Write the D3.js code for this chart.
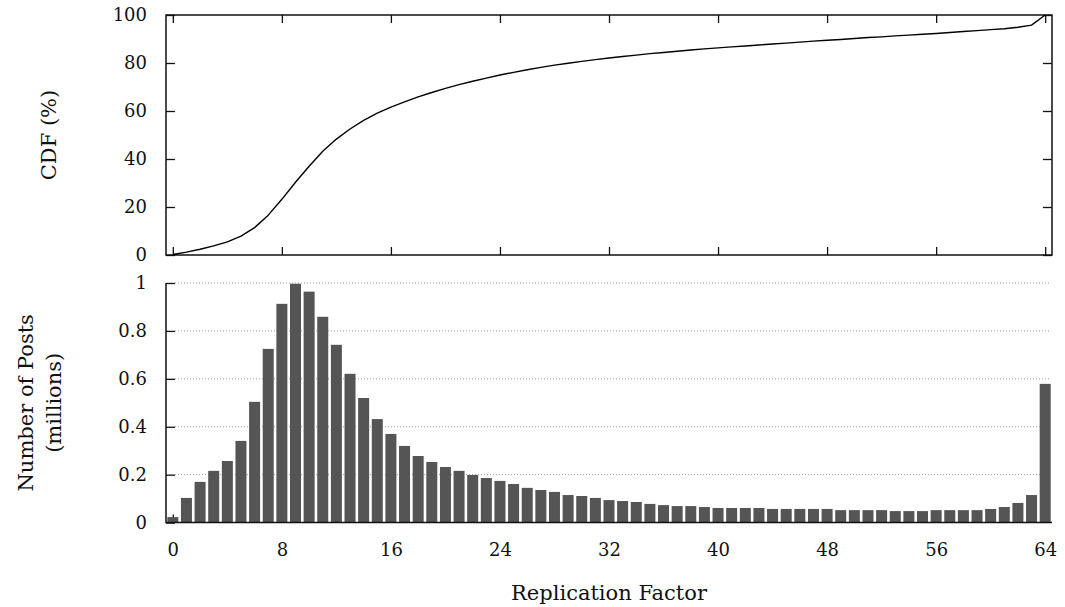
<!DOCTYPE html>
<html>
<head>
<meta charset="utf-8">
<script src="https://cdn.jsdelivr.net/npm/d3@7"></script>
<style>
  body { margin: 0; background: #fff; }
  svg { display: block; font-family: "DejaVu Serif", serif; }
</style>
</head>
<body>
<div id="chart"></div>
<script>
// replication factor 0..64
const factors = d3.range(0, 65);

// number of posts per replication factor (millions)
const posts = [
  0.023, 0.103, 0.170, 0.216, 0.257, 0.341, 0.504, 0.725, 0.913, 0.997,
  0.964, 0.859, 0.742, 0.621, 0.520, 0.432, 0.370, 0.320, 0.278, 0.253,
  0.232, 0.216, 0.199, 0.186, 0.174, 0.161, 0.145, 0.136, 0.128, 0.115,
  0.111, 0.103, 0.094, 0.090, 0.086, 0.078, 0.073, 0.069, 0.069, 0.065,
  0.061, 0.061, 0.061, 0.061, 0.057, 0.057, 0.057, 0.057, 0.057, 0.052,
  0.052, 0.052, 0.052, 0.048, 0.048, 0.048, 0.052, 0.052, 0.052, 0.052,
  0.057, 0.065, 0.082, 0.115, 0.579
];

// CDF (%)
const cdf = [
  0.2, 1.2, 2.4, 3.8, 5.5, 7.9, 11.4, 16.6, 23.2, 30.3,
  37.0, 43.2, 48.3, 52.5, 56.1, 59.1, 61.6, 63.8, 65.9, 67.7,
  69.4, 71.0, 72.4, 73.7, 75.0, 76.1, 77.2, 78.2, 79.1, 79.9,
  80.7, 81.4, 82.1, 82.7, 83.3, 83.9, 84.4, 84.9, 85.4, 85.9,
  86.3, 86.7, 87.1, 87.5, 87.9, 88.3, 88.7, 89.1, 89.5, 89.8,
  90.2, 90.6, 90.9, 91.3, 91.6, 92.0, 92.3, 92.7, 93.1, 93.5,
  93.9, 94.3, 94.9, 95.8, 100
];

const xTicks = [0, 8, 16, 24, 32, 40, 48, 56, 64];
const cdfTicks = [0, 20, 40, 60, 80, 100];
const postTicks = [0, 0.2, 0.4, 0.6, 0.8, 1];

const W = 1065, H = 607;
const left = 166, right = 1052;
const top1 = { top: 15, bottom: 255 };
const top2 = { top: 283, bottom: 522.6 };

const svg = d3.select("#chart").append("svg")
  .attr("width", W)
  .attr("height", H)
  .attr("viewBox", `0 0 ${W} ${H}`);

const x = d3.scaleLinear()
  .domain([-0.5, 64.5])
  .range([left, right]);

const yCdf = d3.scaleLinear()
  .domain([0, 100])
  .range([top1.bottom, top1.top]);

const yPosts = d3.scaleLinear()
  .domain([0, 1])
  .range([top2.bottom, top2.top]);

const tickLabel = (g) => g.selectAll("text")
  .style("font-size", "18px")
  .style("font-family", "'DejaVu Serif', serif")
  .style("fill", "#111");

/* ---- upper panel: CDF ---- */
const p1 = svg.append("g");

// ticks on all four sides, pointing inwards
p1.append("g")
  .attr("transform", `translate(0,${top1.bottom})`)
  .call(d3.axisTop(x).tickValues(xTicks).tickSize(8).tickFormat(""))
  .call(g => g.select(".domain").remove())
  .selectAll("line").attr("stroke", "#111").attr("stroke-width", 1.3);

p1.append("g")
  .attr("transform", `translate(0,${top1.top})`)
  .call(d3.axisBottom(x).tickValues(xTicks).tickSize(8).tickFormat(""))
  .call(g => g.select(".domain").remove())
  .selectAll("line").attr("stroke", "#111").attr("stroke-width", 1.3);

p1.append("g")
  .attr("transform", `translate(${right},0)`)
  .call(d3.axisLeft(yCdf).tickValues(cdfTicks).tickSize(9).tickFormat(""))
  .call(g => g.select(".domain").remove())
  .selectAll("line").attr("stroke", "#111").attr("stroke-width", 1.3);

p1.append("g")
  .attr("transform", `translate(${left},0)`)
  .call(d3.axisRight(yCdf).tickValues(cdfTicks).tickSize(9).tickFormat(""))
  .call(g => g.select(".domain").remove())
  .selectAll("line").attr("stroke", "#111").attr("stroke-width", 1.3);

// labels for the left axis
p1.append("g")
  .attr("transform", `translate(${left},0)`)
  .call(d3.axisLeft(yCdf).tickValues(cdfTicks).tickSize(0).tickPadding(19))
  .call(g => g.select(".domain").remove())
  .call(tickLabel);

p1.append("rect")
  .attr("x", left)
  .attr("y", top1.top)
  .attr("width", right - left)
  .attr("height", top1.bottom - top1.top)
  .attr("fill", "none")
  .attr("stroke", "#111")
  .attr("stroke-width", 1.5);

const line = d3.line()
  .curve(d3.curveLinear)
  .x((d, i) => x(factors[i]))
  .y((d) => yCdf(d));

p1.append("path")
  .attr("fill", "none")
  .attr("stroke", "#000")
  .attr("stroke-width", 1.4)
  .attr("stroke-linejoin", "round")
  .attr("d", line(cdf));

p1.append("text")
  .text("CDF (%)")
  .attr("transform", `translate(56,${(top1.top + top1.bottom) / 2}) rotate(-90)`)
  .style("text-anchor", "middle")
  .style("font-size", "21px")
  .style("fill", "#111");

/* ---- lower panel: posts per replication factor ---- */
const p2 = svg.append("g");

// dotted grid
p2.append("g")
  .selectAll("line")
  .data(postTicks.filter(d => d > 0))
  .enter()
  .append("line")
    .attr("x1", left + 9)
    .attr("x2", right - 2)
    .attr("y1", d => yPosts(d))
    .attr("y2", d => yPosts(d))
    .attr("stroke", "#999")
    .attr("stroke-width", 1)
    .style("stroke-dasharray", "1 2");

// bottom ticks (mostly hidden behind the bars)
p2.append("g")
  .attr("transform", `translate(0,${top2.bottom})`)
  .call(d3.axisTop(x).tickValues(xTicks).tickSize(8).tickFormat(""))
  .call(g => g.select(".domain").remove())
  .selectAll("line").attr("stroke", "#111").attr("stroke-width", 1.3);

p2.append("g")
  .selectAll("rect")
  .data(posts)
  .enter()
  .append("rect")
    .attr("x", (d, i) => x(factors[i]) - 5.5)
    .attr("width", 11)
    .attr("y", d => yPosts(d))
    .attr("height", d => yPosts(0) - yPosts(d))
    .attr("fill", "#555");

// left axis with inward ticks
p2.append("g")
  .attr("transform", `translate(${left},0)`)
  .call(d3.axisRight(yPosts).tickValues(postTicks).tickSize(9).tickFormat(""))
  .call(g => g.select(".domain").remove())
  .selectAll("line").attr("stroke", "#111").attr("stroke-width", 1.3);

p2.append("g")
  .attr("transform", `translate(${left},0)`)
  .call(d3.axisLeft(yPosts).tickValues(postTicks).tickSize(0).tickPadding(19)
    .tickFormat(d3.format("~g")))
  .call(g => g.select(".domain").remove())
  .call(tickLabel);

p2.append("path")
  .attr("fill", "none")
  .attr("stroke", "#111")
  .attr("stroke-width", 1.5)
  .attr("d", `M ${left} ${top2.top} L ${left} ${top2.bottom} L ${right} ${top2.bottom}`);

// x labels
p2.append("g")
  .attr("transform", `translate(0,${top2.bottom})`)
  .call(d3.axisBottom(x).tickValues(xTicks).tickSize(0).tickPadding(21))
  .call(g => g.select(".domain").remove())
  .call(tickLabel);

p2.append("text")
  .text("Replication Factor")
  .attr("x", (x(0) + x(64)) / 2)
  .attr("y", 600)
  .style("text-anchor", "middle")
  .style("font-size", "21px")
  .style("fill", "#111");

const yTitle = p2.append("text")
  .attr("transform", `translate(0,${(top2.top + top2.bottom) / 2}) rotate(-90)`)
  .style("text-anchor", "middle")
  .style("font-size", "21px")
  .style("fill", "#111");
yTitle.append("tspan").attr("x", 0).attr("y", 33).text("Number of Posts");
yTitle.append("tspan").attr("x", 0).attr("y", 61).text("(millions)");
</script>
</body>
</html>
